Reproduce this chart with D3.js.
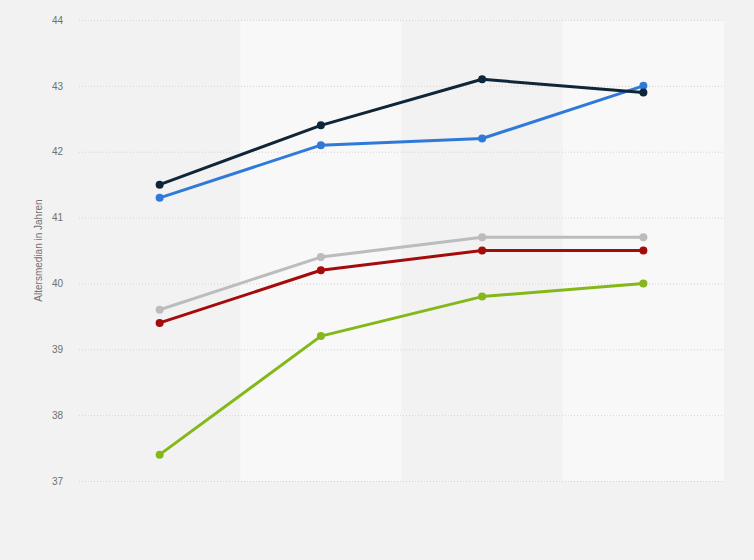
<!DOCTYPE html>
<html>
<head>
<meta charset="utf-8">
<script src="https://cdn.jsdelivr.net/npm/d3@7"></script>
<style>
  html, body { margin: 0; padding: 0; background: #f2f2f2; }
  svg { display: block; font-family: "Liberation Sans", Arial, sans-serif; }
</style>
</head>
<body>
<svg id="chart" width="754" height="560"></svg>
<script>
// Data
const categories = ["A", "B", "C", "D"];
const seriesBlue  = [41.3, 42.1, 42.2, 43.0];
const seriesNavy  = [41.5, 42.4, 43.1, 42.9];
const seriesGray  = [39.6, 40.4, 40.7, 40.7];
const seriesRed   = [39.4, 40.2, 40.5, 40.5];
const seriesGreen = [37.4, 39.2, 39.8, 40.0];
const yTicks = [37, 38, 39, 40, 41, 42, 43, 44];
const yLabel = "Altersmedian in Jahren";

const series = [
  { values: seriesGreen, color: "#84b818" },
  { values: seriesRed,   color: "#a40b0b" },
  { values: seriesGray,  color: "#bcbcbc" },
  { values: seriesBlue,  color: "#2f7ad9" },
  { values: seriesNavy,  color: "#0f2538" }
];

const svg = d3.select("#chart");
const W = 754, H = 560;
const margin = { left: 79, right: 30, top: 20, bottom: 79 };

svg.append("rect").attr("width", W).attr("height", H).attr("fill", "#f2f2f2");

const x = d3.scaleBand().domain(categories).range([margin.left, W - margin.right]).padding(0);
const y = d3.scaleLinear().domain([37, 44]).range([H - margin.bottom, margin.top]);

// alternating bands
svg.append("g").selectAll("rect").data(categories).join("rect")
  .attr("x", d => x(d))
  .attr("y", y(44))
  .attr("width", x.bandwidth())
  .attr("height", y(37) - y(44))
  .attr("fill", (d, i) => i % 2 === 1 ? "#f8f8f8" : "#f2f2f2");

// grid + y axis
const yAxis = d3.axisLeft(y).tickValues(yTicks).tickSize(-(W - margin.left - margin.right)).tickPadding(16).tickFormat(d3.format("d"));
const gy = svg.append("g").attr("transform", `translate(${margin.left},0)`).call(yAxis);
gy.select(".domain").remove();
gy.selectAll(".tick line").attr("stroke", "#d4d4d4").attr("stroke-dasharray", "1,2").attr("stroke-width", 1);
gy.selectAll(".tick text").attr("fill", "#707070").style("font-size", "10px");

// y label
svg.append("text")
  .attr("transform", `translate(42,${(y(44) + y(37)) / 2}) rotate(-90)`)
  .attr("text-anchor", "middle")
  .attr("fill", "#707070")
  .style("font-size", "10px")
  .text(yLabel);

const cx = d => x(d) + x.bandwidth() / 2;
const line = d3.line().x((v, i) => cx(categories[i])).y(v => y(v));

series.forEach(s => {
  const g = svg.append("g");
  g.append("path").datum(s.values)
    .attr("d", line)
    .attr("fill", "none")
    .attr("stroke", s.color)
    .attr("stroke-width", 3)
    .attr("stroke-linejoin", "round");
  g.selectAll("circle").data(s.values).join("circle")
    .attr("cx", (v, i) => cx(categories[i]))
    .attr("cy", v => y(v))
    .attr("r", 4)
    .attr("fill", s.color);
});
</script>
</body>
</html>
